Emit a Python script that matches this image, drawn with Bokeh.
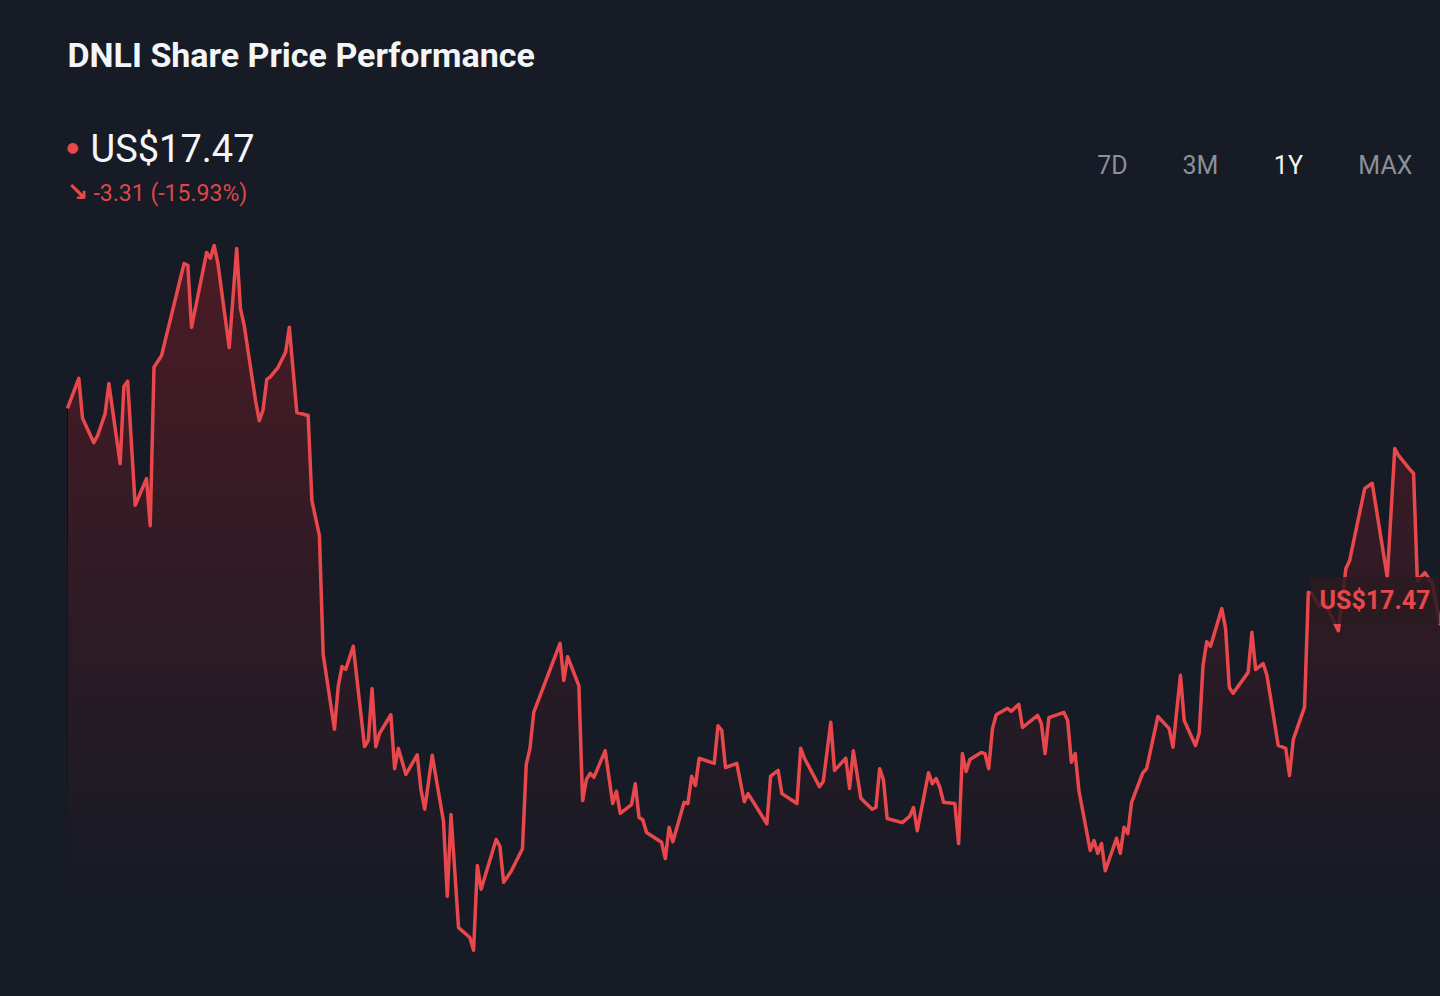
import numpy as np
from bokeh.plotting import figure
from bokeh.models import Range1d, Label
from bokeh.embed import file_html
from bokeh.resources import INLINE

# ---------------- data ----------------
ticker = "DNLI"
last_price = 17.47
change_abs = -3.31
change_pct = -15.93
periods = ["7D", "3M", "1Y", "MAX"]
selected_period = "1Y"

days = [
    0, 3, 4, 7, 8, 10, 11, 14, 15, 16,
    18, 21, 22, 23, 25, 31, 32, 33, 37, 38,
    39, 40, 43, 45, 46, 47, 50, 51, 52, 53,
    54, 56, 58, 59, 61, 64, 65, 67, 68, 71,
    72, 73, 74, 76, 79, 80, 81, 82, 83, 86,
    87, 88, 90, 93, 94, 95, 97, 100, 101, 102,
    104, 107, 108, 109, 110, 114, 115, 116, 118, 121,
    122, 123, 124, 130, 131, 132, 133, 136, 137, 138,
    139, 140, 143, 145, 146, 147, 150, 151, 152, 153,
    154, 158, 159, 160, 161, 164, 165, 166, 167, 168,
    172, 173, 174, 175, 178, 180, 181, 186, 187, 189,
    190, 194, 195, 196, 200, 201, 203, 204, 207, 208,
    209, 211, 214, 215, 216, 217, 218, 222, 224, 225,
    226, 229, 230, 231, 232, 233, 236, 237, 238, 239,
    240, 243, 244, 245, 246, 247, 250, 251, 253, 254,
    258, 259, 260, 261, 265, 266, 267, 268, 269, 272,
    273, 274, 275, 276, 279, 280, 281, 282, 283, 286,
    287, 290, 293, 294, 296, 297, 300, 301, 302, 303,
    304, 307, 308, 309, 310, 314, 315, 316, 318, 319,
    322, 324, 325, 326, 329, 330, 331, 333, 334, 336,
    338, 340, 341, 345, 347, 351, 353, 354, 357, 358,
    359, 361, 363, 365, 367, 369,
]

prices = [
    20.78, 21.30, 20.61, 20.19, 20.31, 20.69, 21.21, 19.83, 21.16, 21.25,
    19.11, 19.57, 18.76, 21.49, 21.69, 23.28, 23.25, 22.18, 23.47, 23.37,
    23.59, 23.28, 21.83, 23.54, 22.50, 22.21, 20.92, 20.57, 20.75, 21.28,
    21.33, 21.49, 21.75, 22.18, 20.71, 20.66, 19.19, 18.59, 16.54, 15.25,
    15.99, 16.33, 16.28, 16.68, 14.95, 15.06, 15.95, 14.95, 15.18, 15.50,
    14.57, 14.92, 14.47, 14.81, 14.21, 13.87, 14.80, 13.66, 12.37, 13.78,
    11.83, 11.66, 11.44, 12.90, 12.49, 13.35, 13.23, 12.61, 12.80, 13.19,
    14.64, 14.92, 15.54, 16.56, 16.73, 16.09, 16.50, 16.00, 14.02, 14.38,
    14.49, 14.42, 14.88, 13.97, 14.18, 13.80, 13.95, 14.31, 13.73, 13.69,
    13.47, 13.30, 13.02, 13.56, 13.31, 13.99, 13.97, 14.44, 14.28, 14.75,
    14.66, 15.31, 15.23, 14.59, 14.66, 14.00, 14.14, 13.62, 14.44, 14.54,
    14.14, 13.97, 14.92, 14.75, 14.26, 14.35, 15.37, 14.54, 14.75, 14.23,
    14.88, 14.06, 13.87, 13.90, 14.57, 14.38, 13.71, 13.64, 13.75, 13.90,
    13.50, 14.50, 14.31, 14.40, 14.25, 13.99, 13.97, 13.28, 14.83, 14.52,
    14.73, 14.85, 14.83, 14.57, 15.26, 15.50, 15.61, 15.56, 15.68, 15.28,
    15.49, 15.35, 14.83, 15.45, 15.54, 15.40, 14.68, 14.83, 14.19, 13.16,
    13.33, 13.11, 13.28, 12.81, 13.37, 13.11, 13.56, 13.45, 13.99, 14.50,
    14.57, 15.47, 15.26, 14.94, 16.18, 15.40, 14.97, 15.19, 16.35, 16.76,
    16.68, 17.33, 16.99, 15.97, 15.87, 16.23, 16.92, 16.28, 16.38, 16.18,
    14.97, 14.92, 14.45, 15.07, 15.63, 17.61, 17.59, 17.37, 17.50, 17.21,
    16.95, 18.02, 18.16, 19.40, 19.49, 17.87, 20.09, 19.97, 19.73, 19.66,
    17.81, 17.95, 17.76, 17.07, 17.30, 17.47,
]

assert len(days) == len(prices)

# ---------------- style ----------------
BG = "#161b25"
RED = "#e8484b"
GREY = "#8b9099"
WHITE = "#f4f5f7"

x = np.array(days, dtype=float)
y = np.array(prices, dtype=float)

p = figure(
    width=1440, height=996,
    output_backend="svg", toolbar_location=None,
    x_range=Range1d(-17.82, 365.16), y_range=Range1d(10.642, 27.814),
    background_fill_color=BG, border_fill_color=BG,
    outline_line_color=None, min_border=0,
)
p.min_border_left = p.min_border_right = p.min_border_top = p.min_border_bottom = 0
p.xaxis.visible = False
p.yaxis.visible = False
p.grid.visible = False

# gradient area fill: stacked translucent layers under the line
fill_base, fill_top, n_layers = 12.52, 23.6, 26
for k in range(n_layers):
    lo = fill_base + k * (fill_top - fill_base) / n_layers
    p.varea(x=x, y1=np.full_like(y, lo), y2=np.maximum(y, lo),
            fill_color=RED, fill_alpha=0.0125)

p.line(x, y, line_color=RED, line_width=3.5, line_join="round")

# ---------------- texts ----------------
p.add_layout(Label(x=0, y=26.867, text=f"{ticker} Share Price Performance",
                   text_font="Roboto", text_font_style="bold", text_font_size="34px",
                   text_color=WHITE, text_baseline="alphabetic"))
p.add_layout(Label(x=1.33, y=25.28, text="\u25cf", text_font="DejaVu Sans",
                   text_font_size="14px", text_color=RED,
                   text_align="center", text_baseline="middle"))
p.add_layout(Label(x=6.12, y=25.247, text=f"US${last_price:.2f}", text_font="Roboto",
                   text_font_size="38px", text_color=WHITE, text_baseline="alphabetic"))
p.add_layout(Label(x=2.66, y=24.52, text="\u2198", text_font="DejaVu Sans",
                   text_font_style="bold", text_font_size="26px", text_color=RED,
                   text_align="center", text_baseline="middle"))
p.add_layout(Label(x=6.91, y=24.49, text=f"{change_abs:.2f} ({change_pct:.2f}%)",
                   text_font="Roboto", text_font_size="23px", text_color="#dc474b",
                   text_baseline="alphabetic"))

period_x = [277.9, 301.3, 324.7, 350.5]
for lab, px in zip(periods, period_x):
    p.add_layout(Label(x=px, y=24.97, text=lab, text_font="Roboto",
                       text_font_size="25px",
                       text_color=WHITE if lab == selected_period else GREY,
                       text_align="center", text_baseline="alphabetic"))

p.add_layout(Label(x=330.6, y=last_price, text=f"US${last_price:.2f}",
                   text_font="Roboto", text_font_style="bold", text_font_size="25px",
                   text_color=RED, text_baseline="middle",
                   background_fill_color="#2a1b20", background_fill_alpha=0.85,
                   padding=9))

html = file_html(p, INLINE, title=f"{ticker} Share Price Performance")
html = html.replace("</head>", "<style>html,body{background:#161b25;}</style></head>", 1)
open("out.html", "w").write(html)
